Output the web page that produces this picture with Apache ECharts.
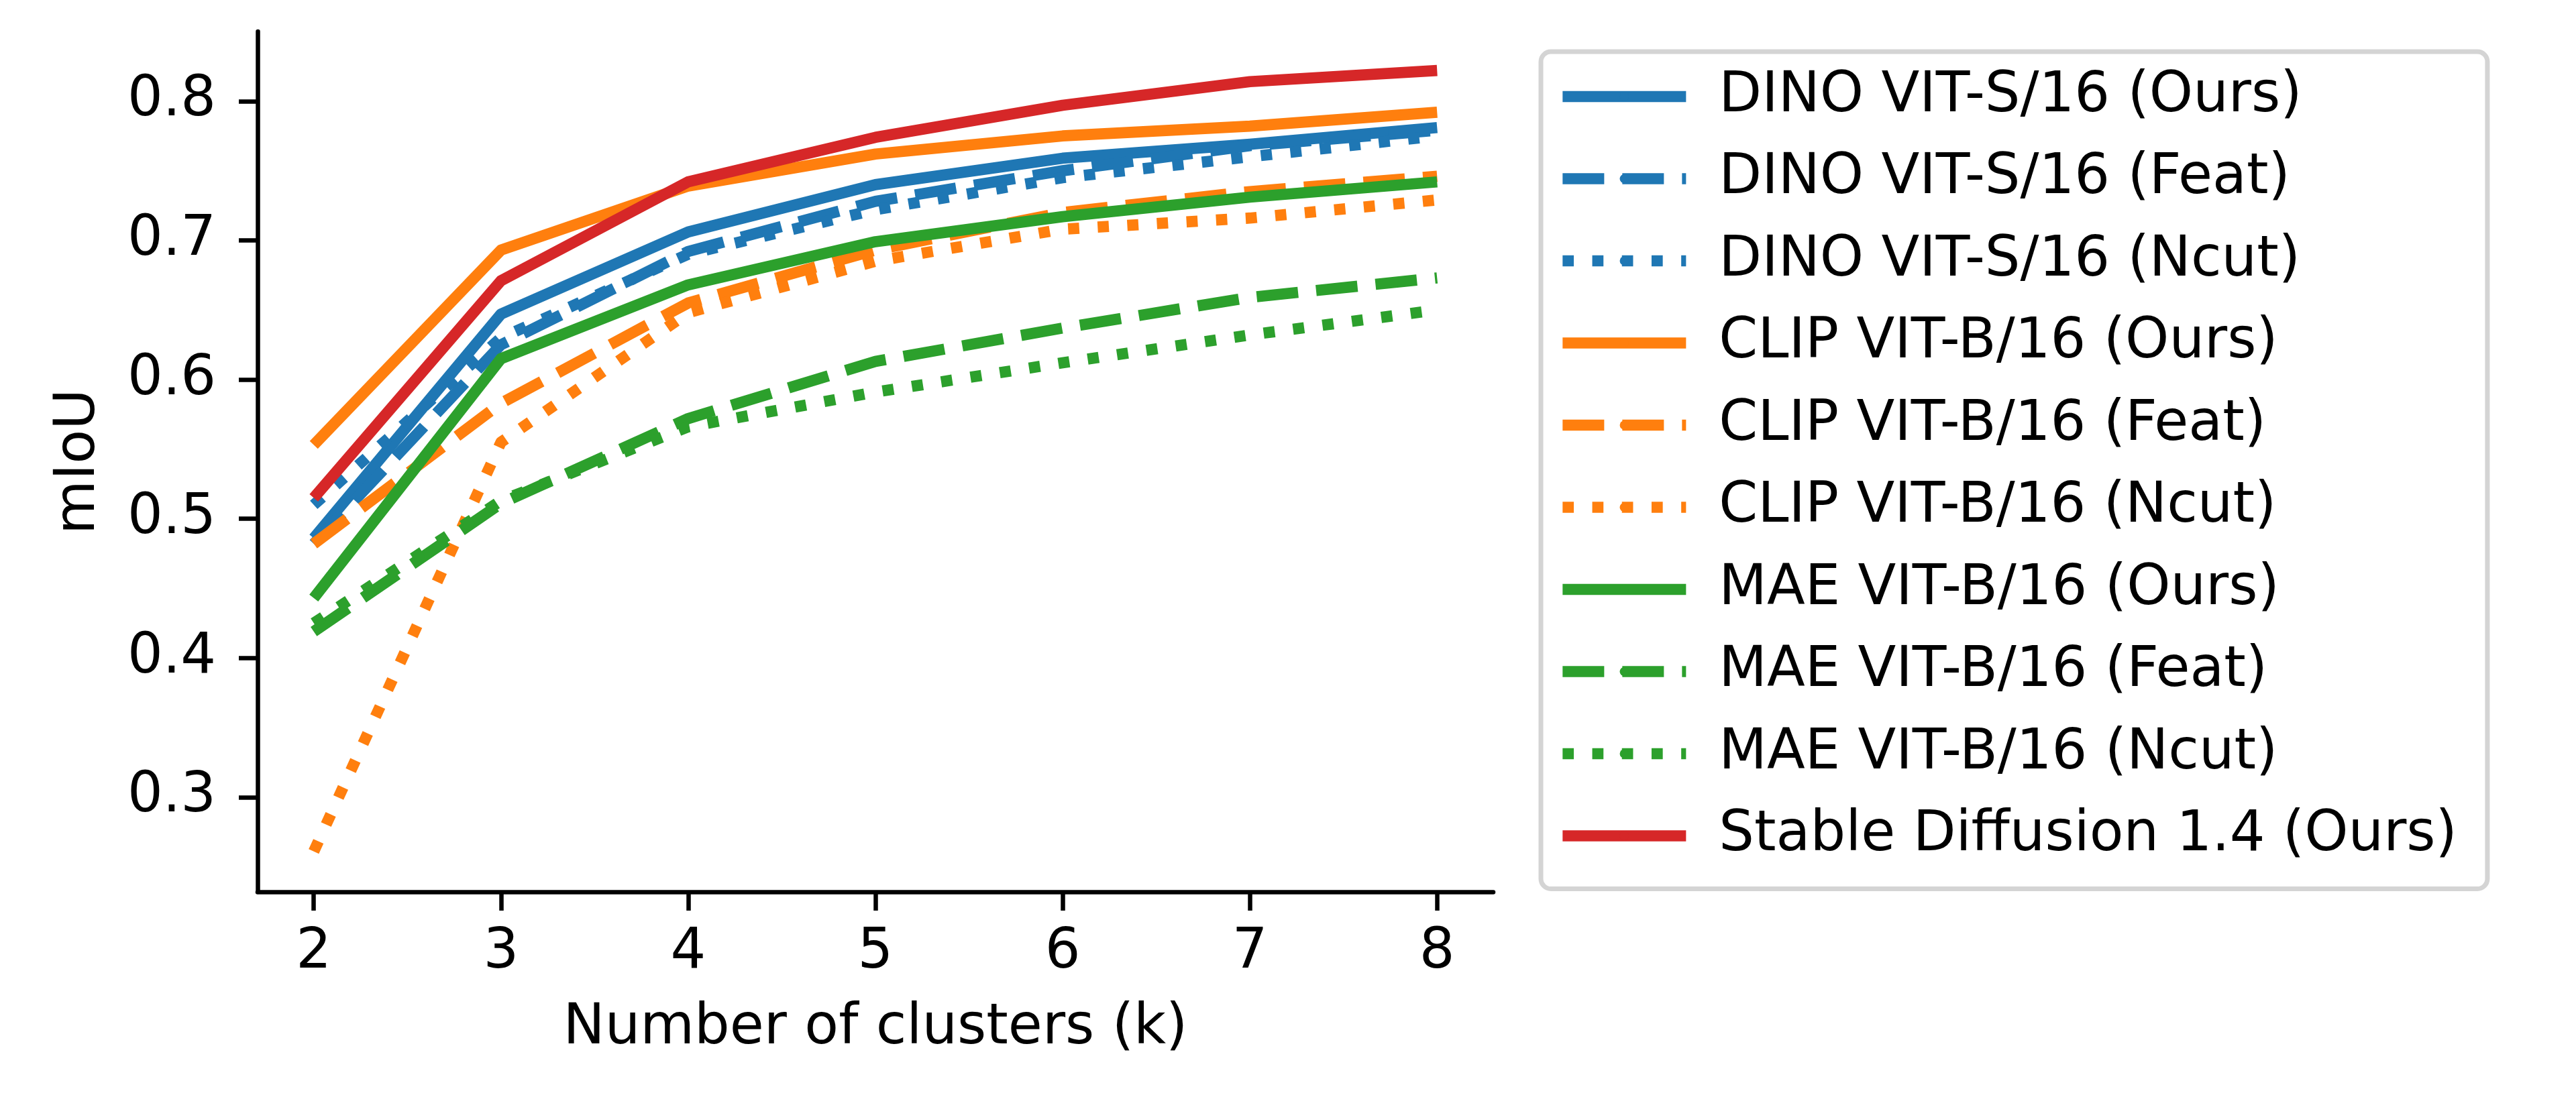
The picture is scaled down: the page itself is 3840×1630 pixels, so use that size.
<!DOCTYPE html>
<html>
<head>
<meta charset="utf-8">
<script src="https://cdn.jsdelivr.net/npm/echarts@6/dist/echarts.min.js"></script>
<style>
  html, body { margin: 0; padding: 0; background: #fff; }
  #main { width: 3840px; height: 1630px; }
</style>
</head>
<body>
<div id="main"></div>
<script>
// number of clusters
const clusters = [2, 3, 4, 5, 6, 7, 8];
const xTicks = [2, 3, 4, 5, 6, 7, 8];
const yTicks = [0.3, 0.4, 0.5, 0.6, 0.7, 0.8];

// mIoU values
const dinoOurs = [0.486, 0.647, 0.706, 0.740, 0.759, 0.769, 0.781];
const dinoFeat = [0.482, 0.625, 0.692, 0.728, 0.750, 0.768, 0.779];
const dinoNcut = [0.510, 0.630, 0.690, 0.722, 0.745, 0.760, 0.775];
const clipOurs = [0.553, 0.693, 0.739, 0.762, 0.775, 0.782, 0.792];
const clipFeat = [0.482, 0.583, 0.655, 0.693, 0.720, 0.735, 0.746];
const clipNcut = [0.261, 0.555, 0.648, 0.685, 0.708, 0.716, 0.729];
const maeOurs = [0.443, 0.615, 0.668, 0.699, 0.717, 0.731, 0.742];
const maeFeat = [0.419, 0.511, 0.572, 0.613, 0.637, 0.659, 0.673];
const maeNcut = [0.425, 0.513, 0.566, 0.591, 0.612, 0.632, 0.650];
const sdOurs = [0.515, 0.671, 0.742, 0.774, 0.797, 0.814, 0.822];

const seriesNames = [
  "DINO VIT-S/16 (Ours)", "DINO VIT-S/16 (Feat)", "DINO VIT-S/16 (Ncut)",
  "CLIP VIT-B/16 (Ours)", "CLIP VIT-B/16 (Feat)", "CLIP VIT-B/16 (Ncut)",
  "MAE VIT-B/16 (Ours)", "MAE VIT-B/16 (Feat)", "MAE VIT-B/16 (Ncut)",
  "Stable Diffusion 1.4 (Ours)"
];
const seriesValues = [dinoOurs, dinoFeat, dinoNcut, clipOurs, clipFeat, clipNcut, maeOurs, maeFeat, maeNcut, sdOurs];
const seriesColors = ["#1f77b4", "#1f77b4", "#1f77b4", "#ff7f0e", "#ff7f0e", "#ff7f0e", "#2ca02c", "#2ca02c", "#2ca02c", "#d62728"];
const seriesStyles = ["solid", "dashed", "dotted", "solid", "dashed", "dotted", "solid", "dashed", "dotted", "solid"];

const LW = 16.7;
const FONT = "DejaVu Sans";
const FS = 83;

function dashOf(style) {
  if (style == "dashed") return [62, 27];
  if (style == "dotted") return [LW, 27.5];
  return "solid";
}

var myChart = echarts.init(document.getElementById("main"), null, { renderer: "canvas" });

var series = [];
for (var i = 0; i < seriesNames.length; i++) {
  var pts = [];
  for (var j = 0; j < clusters.length; j++) {
    pts.push([clusters[j], seriesValues[i][j]]);
  }
  series.push({
    name: seriesNames[i],
    type: "line",
    data: pts,
    symbol: "none",
    showSymbol: false,
    color: seriesColors[i],
    lineStyle: {
      color: seriesColors[i],
      width: LW,
      type: dashOf(seriesStyles[i]),
      cap: "butt",
      join: "round"
    },
    emphasis: { disabled: true }
  });
}

var axisLine = { show: true, lineStyle: { color: "#000", width: 6.5 } };
var axisTickBase = { show: true, length: 28, lineStyle: { color: "#000", width: 6.5 } };

var option = {
  animation: false,
  backgroundColor: "#fff",
  textStyle: { fontFamily: FONT },
  grid: { left: 384, top: 47, width: 1842, height: 1283, containLabel: false },
  legend: {
    orient: "vertical",
    left: 2297,
    top: 77,
    padding: [22, 45, 34, 24],
    itemWidth: 184,
    itemHeight: 17,
    itemGap: 32.5,
    borderColor: "#d4d4d4",
    borderWidth: 7,
    borderRadius: 15,
    backgroundColor: "#fff",
    selectedMode: false,
    lineStyle: { width: LW },
    textStyle: {
      fontFamily: FONT,
      fontSize: FS,
      color: "#000",
      lineHeight: 90,
      padding: [0, 0, 0, 44]
    },
    data: seriesNames
  },
  xAxis: {
    type: "value",
    min: 1.7,
    max: 8.3,
    name: "Number of clusters (k)",
    nameLocation: "middle",
    nameGap: 163,
    nameTextStyle: { fontFamily: FONT, fontSize: FS, color: "#000" },
    axisLine: axisLine,
    axisTick: Object.assign({ customValues: xTicks }, axisTickBase),
    axisLabel: { customValues: xTicks, margin: 50, fontFamily: FONT, fontSize: FS, color: "#000" },
    splitLine: { show: false }
  },
  yAxis: {
    type: "value",
    min: 0.232,
    max: 0.850,
    name: "mIoU",
    nameLocation: "middle",
    nameGap: 224,
    nameTextStyle: { fontFamily: FONT, fontSize: FS, color: "#000" },
    axisLine: axisLine,
    axisTick: Object.assign({ customValues: yTicks }, axisTickBase),
    axisLabel: {
      customValues: yTicks,
      margin: 62,
      fontFamily: FONT,
      fontSize: FS,
      color: "#000",
      formatter: function (v) { return v.toFixed(1); }
    },
    splitLine: { show: false }
  },
  series: series
};

myChart.setOption(option);
</script>
</body>
</html>
